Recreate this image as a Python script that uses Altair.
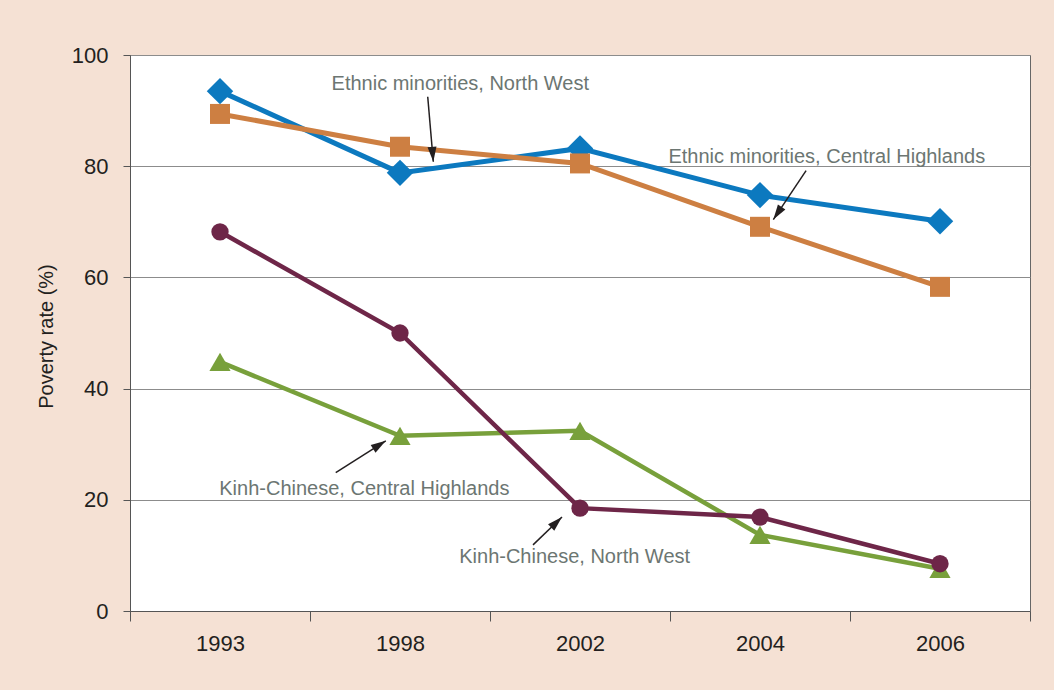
import math
import altair as alt
import pandas as pd

# ---- data ----
years = ["1993", "1998", "2002", "2004", "2006"]
series_names = [
    "Ethnic minorities, North West",
    "Ethnic minorities, Central Highlands",
    "Kinh-Chinese, Central Highlands",
    "Kinh-Chinese, North West",
]
em_north_west = [93.5, 78.8, 83.2, 74.8, 70.1]
em_central_highlands = [89.4, 83.5, 80.5, 69.1, 58.3]
kc_central_highlands = [44.8, 31.5, 32.4, 13.7, 7.6]
kc_north_west = [68.2, 50.0, 18.5, 16.9, 8.5]
values = [em_north_west, em_central_highlands, kc_central_highlands, kc_north_west]

# annotation labels (x in year-band units 0..5, y in %)
ann_text = series_names
ann_x = [1.835, 2.991, 0.496, 1.829]
ann_y = [93.7, 80.5, 20.9, 8.6]
ann_align = ["center", "left", "left", "left"]
# arrows: start (x1, y1) -> tip (x2, y2)
arr_x1 = [1.654, 3.756, 1.143, 2.239]
arr_y1 = [92.5, 79.2, 24.9, 11.9]
arr_x2 = [1.685, 3.574, 1.421, 2.400]
arr_y2 = [80.8, 70.4, 30.6, 16.9]

# ---- styles ----
colors = ["#0c79bf", "#cd7f42", "#78a03b", "#6e2648"]
shapes = ["diamond", "square", "triangle-up", "circle"]
sizes = [700, 400, 450, 300]
stroke_w = [5, 5, 4.5, 4.5]
draw_order = [0, 1, 2, 3]

W, H = 900, 556
PX_X = W / 5.0
PX_Y = H / 100.0
FONT = "Liberation Sans"
TEXT_DARK = "#231f20"
ANN_GRAY = "#6c7672"
BG = "#f5e1d4"

year_list_expr = "[" + ",".join("'" + y + "'" for y in years) + "]"
label_expr = f"datum.value < {len(years)} ? {year_list_expr}[datum.value] : ''"

X_SCALE = alt.Scale(domain=[0, len(years)], nice=False, zero=False)
Y_SCALE = alt.Scale(domain=[0, 100], nice=False)
X_AXIS = alt.Axis(
    title=None, values=list(range(len(years) + 1)), labelExpr=label_expr,
    labelOffset=PX_X / 2, labelAngle=0, labelFlush=False, labelOverlap=False,
    tickSize=10, labelPadding=12, labelFontSize=22, labelColor=TEXT_DARK,
    labelFont=FONT, domainColor="#555555", tickColor="#555555", grid=False,
)
Y_AXIS = alt.Axis(
    title="Poverty rate (%)", values=[0, 20, 40, 60, 80, 100], tickSize=7,
    labelPadding=15, labelFontSize=22, labelColor=TEXT_DARK, labelFont=FONT,
    domainColor="#555555", tickColor="#555555", grid=True, gridColor="#8c8c8c",
    titleFont=FONT, titleFontSize=20, titleFontWeight="normal", titleColor=TEXT_DARK,
    titleAngle=270, titleX=-84, titleY=281, titleBaseline="middle", titleAlign="center",
)


def xenc(f):
    return alt.X(f + ":Q", scale=X_SCALE, axis=X_AXIS)


def yenc(f):
    return alt.Y(f + ":Q", scale=Y_SCALE, axis=Y_AXIS)


def series_df(i):
    return pd.DataFrame({
        "xi": [k + 0.5 for k in range(len(years))],
        "rate": values[i],
        "series": series_names[i],
    })


layers = []
for i in draw_order:
    layers.append(
        alt.Chart(series_df(i)).mark_line(color=colors[i], strokeWidth=stroke_w[i])
        .encode(x=xenc("xi"), y=yenc("rate"))
    )
for i in draw_order:
    layers.append(
        alt.Chart(series_df(i)).mark_point(
            shape=shapes[i], filled=True, opacity=1, size=sizes[i], color=colors[i]
        ).encode(x=xenc("xi"), y=yenc("rate"))
    )

# arrows
arr_df = pd.DataFrame({"x1": arr_x1, "y1": arr_y1, "x2": arr_x2, "y2": arr_y2})
head_len = 15.0
hx, hy, ha = [], [], []
for a, b, c, d in zip(arr_x1, arr_y1, arr_x2, arr_y2):
    dx = (c - a) * PX_X
    dy = -(d - b) * PX_Y
    L = math.hypot(dx, dy)
    ux, uy = dx / L, dy / L
    cx = c * PX_X - ux * head_len / 2
    cy = (100 - d) * PX_Y - uy * head_len / 2
    hx.append(cx / PX_X)
    hy.append(100 - cy / PX_Y)
    ha.append(math.degrees(math.atan2(dx, -dy)) % 360)
head_df = pd.DataFrame({"hx": hx, "hy": hy, "ang": ha})

layers.append(
    alt.Chart(arr_df).mark_rule(color=TEXT_DARK, strokeWidth=1.5).encode(
        x=xenc("x1"), y=yenc("y1"), x2="x2:Q", y2="y2:Q",
    )
)
layers.append(
    alt.Chart(head_df).mark_point(
        shape="M0,-1L-0.6,1L0.6,1Z", filled=True, opacity=1, size=225, color=TEXT_DARK
    ).encode(
        x=xenc("hx"), y=yenc("hy"), angle=alt.Angle("ang:Q", scale=None),
    )
)

for t, ax, ay, al in zip(ann_text, ann_x, ann_y, ann_align):
    tdf = pd.DataFrame({"ax": [ax], "ay": [ay], "label": [t]})
    layers.append(
        alt.Chart(tdf).mark_text(
            align=al, baseline="alphabetic", font=FONT, fontSize=20, color=ANN_GRAY
        ).encode(x=xenc("ax"), y=yenc("ay"), text="label:N")
    )

chart = (
    alt.layer(*layers)
    .properties(
        width=W, height=H,
        autosize=alt.AutoSizeParams(type="none"),
        padding={"left": 130, "top": 55, "right": 24, "bottom": 79},
        background=BG,
    )
    .configure_view(fill="white", stroke="#666666", strokeWidth=1)
)

chart.save("out.html", embed_options={"renderer": "svg", "actions": False})
